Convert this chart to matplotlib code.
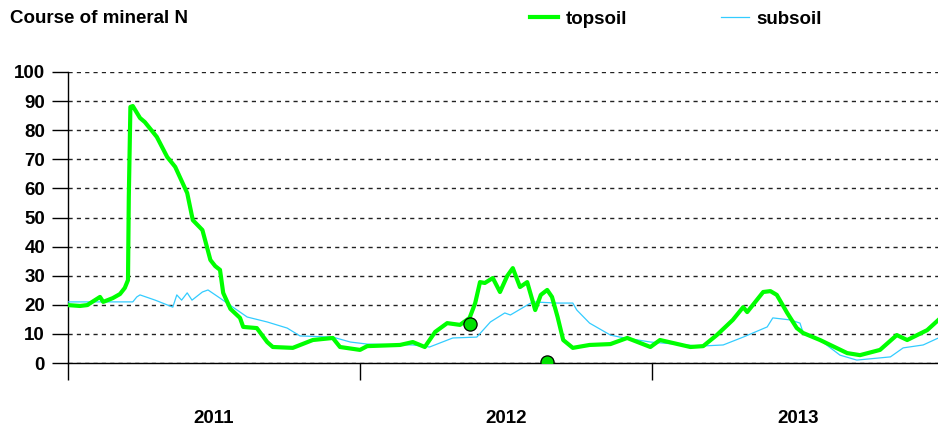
import matplotlib
matplotlib.use('Agg')
import matplotlib.pyplot as plt
import numpy as np

plt.rcParams['font.family'] = ['Liberation Sans', 'DejaVu Sans']
plt.rcParams['font.weight'] = 'bold'

# days since 1 Jan 2011 and mineral N values
top_days = [0, 15, 24, 40, 44, 56, 65, 71, 75, 76, 78, 81, 90, 96, 111, 124, 134, 149,
            156, 168, 178, 184, 190, 194, 203, 215, 219, 236, 249, 256, 281, 306, 331,
            340, 365, 374, 415, 431, 446, 459, 474, 490, 502, 509, 515, 521, 531, 540,
            549, 556, 565, 574, 584, 591, 599, 605, 612, 619, 631, 652, 678, 699, 728,
            740, 778, 794, 811, 831, 844, 849, 869, 878, 886, 899, 911, 919, 940, 974,
            990, 1015, 1036, 1049, 1074, 1088]
topsoil = [19.9, 19.6, 19.9, 22.7, 21.0, 22.3, 23.7, 25.8, 28.5, 57.0, 88.0, 88.3, 84.2,
           82.8, 77.7, 70.8, 67.4, 58.4, 49.1, 45.7, 35.4, 33.3, 32.0, 24.1, 18.6, 15.5,
           12.4, 12.0, 7.2, 5.5, 5.2, 7.9, 8.6, 5.5, 4.5, 5.8, 6.2, 7.2, 5.5, 10.7, 13.7,
           13.1, 15.5, 20.6, 27.8, 27.5, 29.2, 24.4, 29.9, 32.6, 26.1, 27.8, 18.2, 23.4,
           25.1, 22.7, 15.8, 7.9, 5.2, 6.2, 6.5, 8.6, 5.5, 7.9, 5.5, 5.8, 9.6, 14.8, 19.2,
           17.5, 24.4, 24.7, 23.4, 17.2, 12.0, 10.3, 7.9, 3.4, 2.7, 4.5, 9.6, 7.9, 11.3,
           14.8]

sub_days = [0, 81, 86, 90, 109, 131, 136, 142, 149, 155, 168, 175, 190, 206, 224, 249,
            274, 290, 331, 353, 374, 431, 452, 481, 511, 528, 546, 553, 574, 581, 611,
            631, 636, 652, 678, 690, 728, 790, 819, 844, 874, 881, 903, 915, 919, 940,
            965, 986, 1028, 1044, 1069, 1088]
subsoil = [21.0, 21.0, 22.7, 23.4, 21.6, 19.2, 23.4, 21.6, 24.1, 21.6, 24.4, 25.1, 22.3,
           19.2, 15.8, 14.1, 12.0, 9.3, 8.9, 7.2, 6.5, 6.2, 5.5, 8.6, 8.9, 14.1, 17.2,
           16.5, 19.9, 21.0, 20.6, 20.6, 18.2, 13.7, 9.6, 8.9, 7.2, 5.8, 6.2, 8.9, 12.4,
           15.5, 14.8, 13.7, 10.3, 7.9, 2.7, 1.0, 2.1, 5.2, 6.2, 8.6]

obs_days = [502, 599]
obs_vals = [13.5, 0.5]

years = ['2011', '2012', '2013']
year_start = [0, 365, 730]

fig = plt.figure(figsize=(9.38, 4.29), dpi=100)
ax = fig.add_axes([68 / 938, 66 / 429, 870 / 938, 291 / 429])

ax.plot(sub_days, subsoil, color='#33CCFF', lw=0.9, label='subsoil', zorder=3)
ax.plot(top_days, topsoil, color='#00FF00', lw=3.0, label='topsoil', zorder=4)
ax.plot(obs_days, obs_vals, 'o', ms=9.5, mfc='#00E000', mec='black', mew=0.9, zorder=5)

ax.set_xlim(0, 1087.5)
ax.set_ylim(0, 100)
ax.set_yticks(np.arange(0, 101, 10))
ax.set_xticks(year_start)
ax.set_xticklabels([])
ax.set_xticks([s + 182.5 for s in year_start], minor=True)
ax.set_xticklabels(years, minor=True)
ax.tick_params(axis='y', length=11.5, width=1, pad=5, labelsize=13.5)
ax.tick_params(axis='x', which='major', length=12.5, width=1)
ax.tick_params(axis='x', which='minor', length=0, pad=34, labelsize=13.5)
ax.grid(axis='y', color='#222222', lw=1, linestyle=(0, (3, 3)))
ax.set_axisbelow(True)
for s in ['top', 'right']:
    ax.spines[s].set_visible(False)
for s in ['left', 'bottom']:
    ax.spines[s].set_linewidth(1)

fig.text(10 / 938, 1 - 10 / 429, 'Course of mineral N', ha='left', va='top',
         fontsize=13.5, fontweight='bold')

h, l = ax.get_legend_handles_labels()
fig.legend(h[::-1], l[::-1], loc='center left', bbox_to_anchor=(530 / 938, 1 - 19 / 429),
           ncol=2, frameon=False, handlelength=1.5, handletextpad=0.4,
           columnspacing=5.0, borderpad=0, borderaxespad=0, fontsize=13.5)

fig.savefig('out.png', dpi=100)
